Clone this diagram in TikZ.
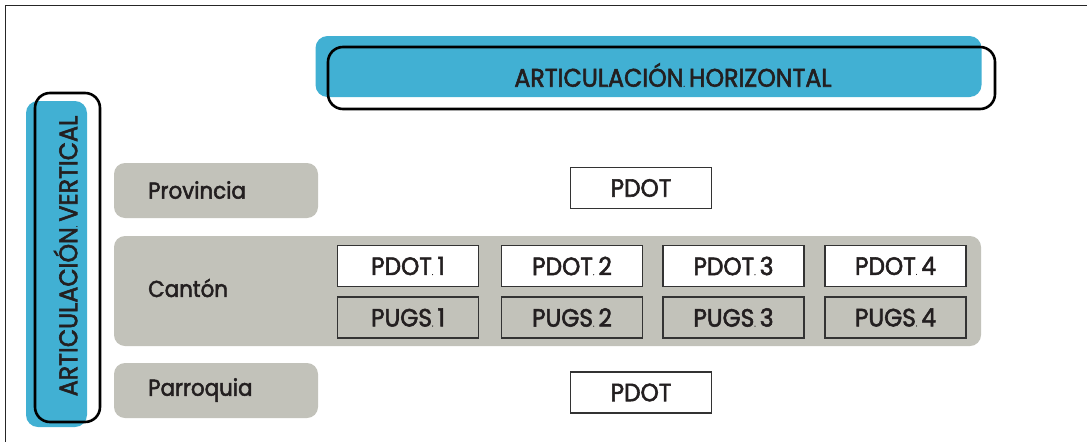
\documentclass[tikz,border=0pt]{standalone}
\usepackage{fontspec}
\setmainfont{Poppins}[UprightFeatures={FakeBold=2.2}, FakeStretch=0.93]
\definecolor{txt}{HTML}{231F20}
\definecolor{blu}{HTML}{41B0D3}
\definecolor{gry}{HTML}{C2C2BA}
\definecolor{bdr}{HTML}{333333}
\tikzset{
  bluebar/.style={fill=blu, draw=none, rounded corners=12pt, inner sep=0pt},
  outlinebar/.style={draw=black, line width=2.6pt, rounded corners=15pt, inner sep=0pt, fill=none},
  graybox/.style={fill=gry, draw=none, rounded corners=11pt, inner sep=0pt},
  whitebox/.style={fill=white, draw=bdr, line width=1.6pt, inner sep=0pt, minimum width=141pt, minimum height=41pt, text=txt, font=\fontsize{25}{25}\selectfont},
  pugsbox/.style={whitebox, fill=gry},
  lvllabel/.style={anchor=west, text=txt, inner sep=0pt, font=\fontsize{23}{23}\selectfont},
  bigtitle/.style={text=txt, inner sep=0pt, font=\fontsize{25.5}{25.5}\selectfont},
}
\newcommand{\sdot}{{\fontsize{7}{7}\selectfont.}\,}
\begin{document}
\begin{tikzpicture}[x=1pt,y=-1pt]
\useasboundingbox (0,0) rectangle (1087,442);
\fill[white] (0,0) rectangle (1087,442);
\coordinate (fa) at (1087,5.5);
\coordinate (fb) at (5.5,5.5);
\coordinate (fc) at (5.5,442);
\draw[line width=1.2pt, black!85] (fa) -- (fb) -- (fc);
% horizontal articulation
\node[bluebar, minimum width=666pt, minimum height=61pt] (hb) at (648.5,66.5) {};
\node[outlinebar, minimum width=667pt, minimum height=62pt] (ho) at (661.5,78) {};
\node[bigtitle] (ht) at (673,75) {ARTICULACIÓN\sdot HORIZONTAL};
% vertical articulation
\node[bluebar, minimum width=61pt, minimum height=326pt] (vb) at (56.5,264) {};
\node[outlinebar, minimum width=65pt, minimum height=329pt] (vo) at (67.5,257.5) {};
\node[bigtitle, rotate=90] (vt) at (65.5,256) {ARTICULACIÓN\sdot VERTICAL};
% levels
\node[graybox, minimum width=204pt, minimum height=55pt] (gp) at (216,190.5) {};
\node[graybox, minimum width=867pt, minimum height=110pt] (gc) at (547.5,291) {};
\node[graybox, minimum width=204pt, minimum height=55pt] (gq) at (216,390.5) {};
\node[lvllabel] (lp) at (148,190) {Provincia};
\node[lvllabel] (lc) at (148,288) {Cantón};
\node[lvllabel] (lq) at (148,390) {Parroquia};
% PDOT boxes
\node[whitebox] (p0) at (641,188) {PDOT};
\node[whitebox] (q0) at (641,392.5) {PDOT};
\node[whitebox] (p1) at (408,266) {PDOT\sdot 1};
\node[whitebox] (p2) at (572,266) {PDOT\sdot 2};
\node[whitebox] (p3) at (733.5,266) {PDOT\sdot 3};
\node[whitebox] (p4) at (895.5,266) {PDOT\sdot 4};
\node[pugsbox] (u1) at (408,317.5) {PUGS\sdot 1};
\node[pugsbox] (u2) at (572,317.5) {PUGS\sdot 2};
\node[pugsbox] (u3) at (733.5,317.5) {PUGS\sdot 3};
\node[pugsbox] (u4) at (895.5,317.5) {PUGS\sdot 4};
\end{tikzpicture}
\end{document}
